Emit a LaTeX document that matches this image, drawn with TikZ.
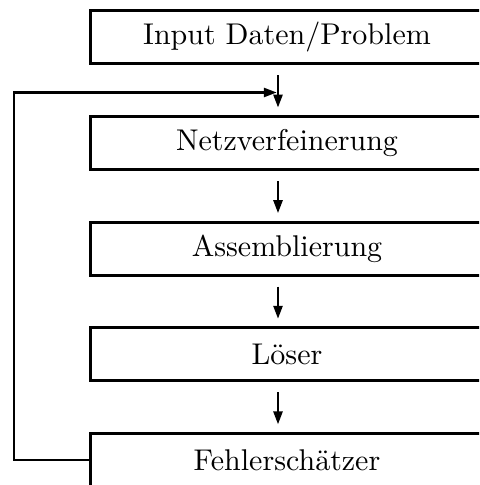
\documentclass[tikz,border=0pt]{standalone}
\usepackage{fontspec}
\usetikzlibrary{positioning}
\usetikzlibrary{arrows.meta}
\newfontfamily\boxfont{lmroman10-regular.otf}[Scale=1.5]
\tikzset{block/.style={rectangle,draw,line width=1.5pt,minimum width=197pt,minimum height=26.5pt,inner sep=0pt,outer sep=0pt,font=\boxfont},}
\tikzset{flow/.style={line width=1.25pt,-{Triangle[length=6.5pt,width=4.5pt]}},}

\begin{document}
\begin{tikzpicture}[x=0.5pt,y=0.5pt]
          \clip (0,0) rectangle (479,-485);
          \node[block] (input) at (287,-37.5) {Input Daten/Problem};
          \node[block] (netz) [below = 26.3pt of input] {Netzverfeinerung};
          \node[block] (assem) [below = 26.3pt of netz] {Assemblierung};
          \node[block] (loeser) [below = 26.3pt of assem] {Löser};
          \node[block] (fehler) [below = 26.3pt of loeser] {Fehlerschätzer};
          \coordinate (join) at ([xshift=-5.1pt,yshift=-14.25pt]input.south);

          \path[flow]
          ([xshift=-4.5pt,yshift=-5.75pt]input.south) edge ([xshift=-4.5pt,yshift=4.5pt]netz.north)
          ([xshift=-4.5pt,yshift=-5.75pt]netz.south) edge ([xshift=-4.5pt,yshift=4.5pt]assem.north)
          ([xshift=-4.5pt,yshift=-5.75pt]assem.south) edge ([xshift=-4.5pt,yshift=4.5pt]loeser.north)
          ([xshift=-4.5pt,yshift=-5.75pt]loeser.south) edge ([xshift=-4.5pt,yshift=4.5pt]fehler.north);
          \draw[flow] (fehler.west) -- ++(-38pt,0) |- (join);
        \end{tikzpicture}
\end{document}
